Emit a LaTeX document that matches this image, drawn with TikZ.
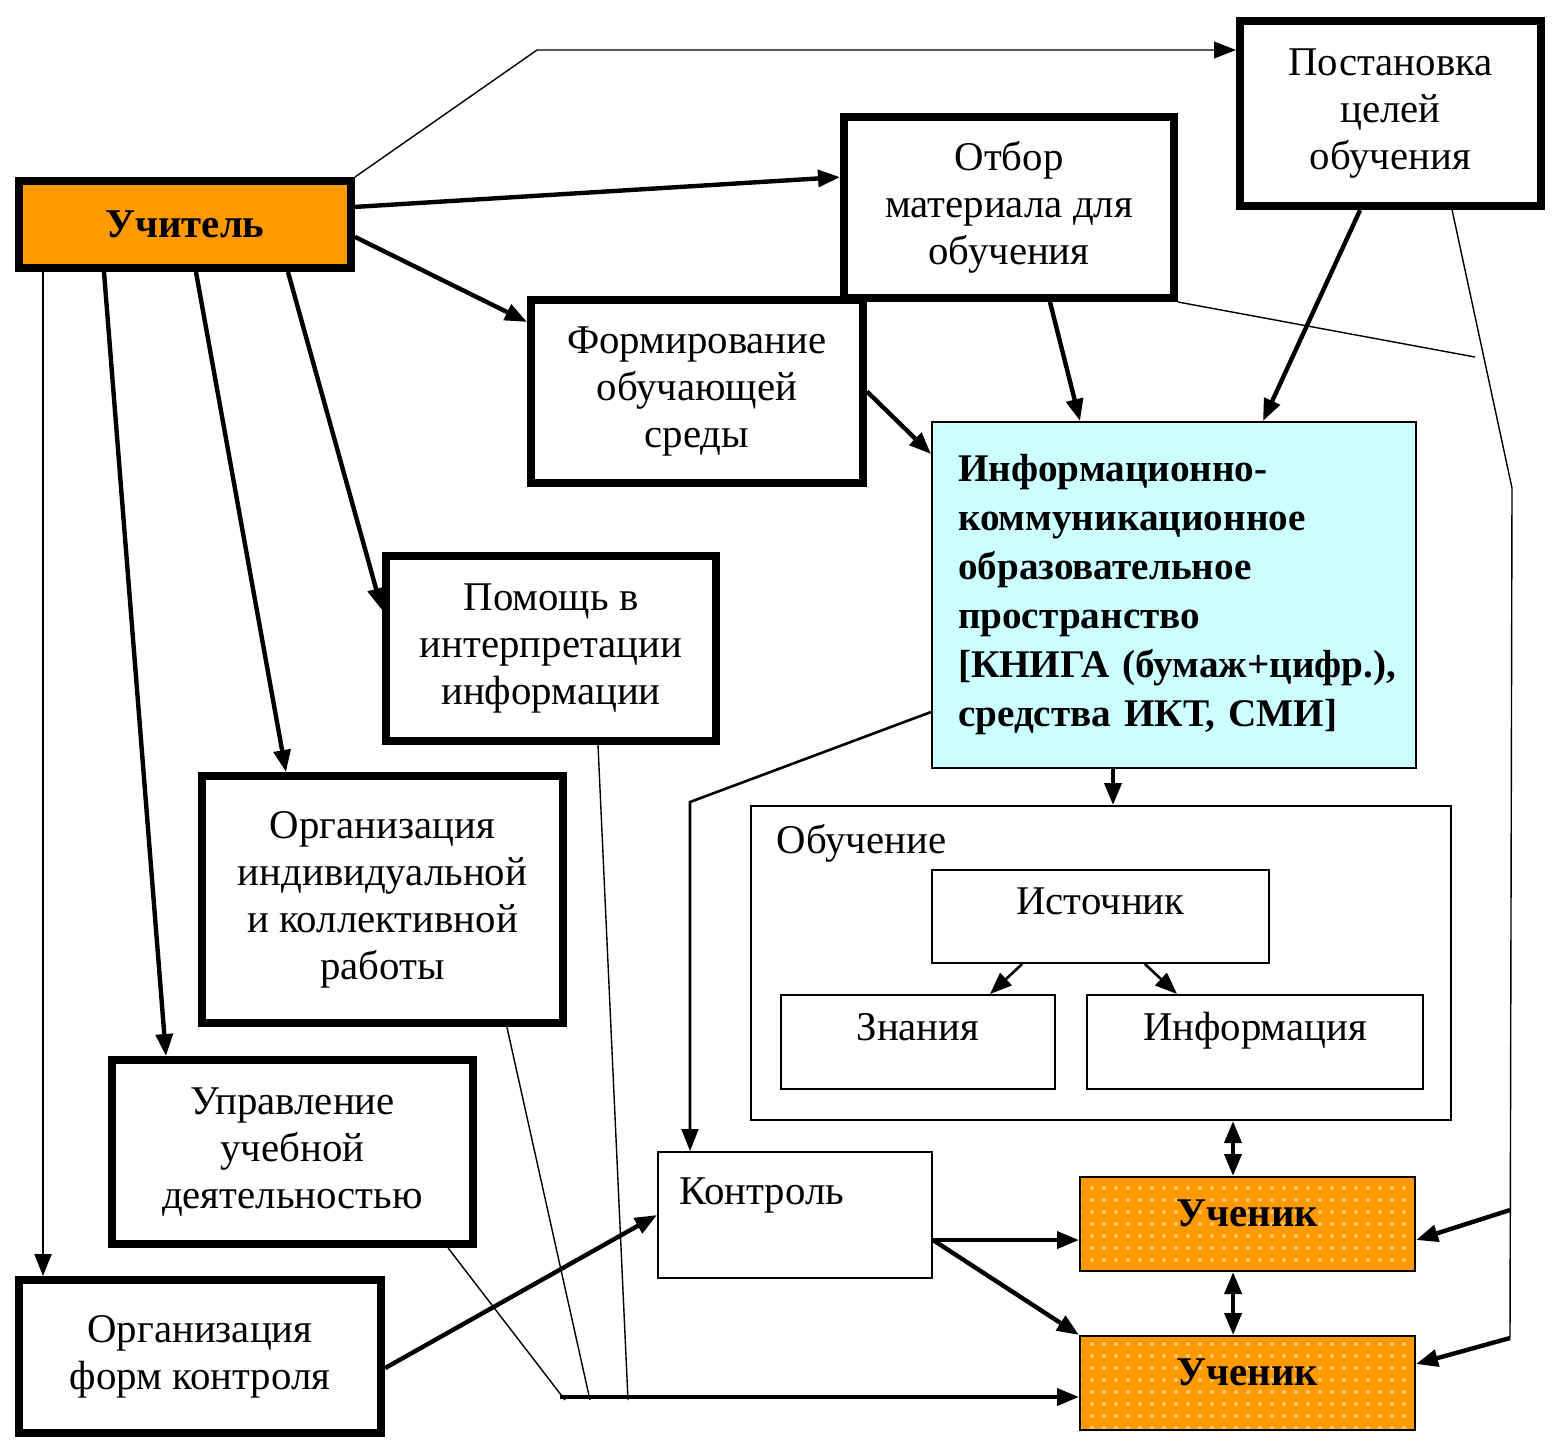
\documentclass[tikz,border=0pt]{standalone}
\usepackage{fontspec}
\setmainfont{Liberation Serif}
\usetikzlibrary{arrows.meta, positioning, patterns}
\definecolor{uorange}{RGB}{255,153,0}
\definecolor{ucyan}{RGB}{204,255,255}
\newcommand{\boxfont}{\fontsize{10.2}{11.75}\selectfont}
\begin{document}
\begin{tikzpicture}[x=0.25pt, y=-0.25pt, >={Triangle[length=5.5pt,width=4.2pt]}, font=\boxfont]
\tikzset{thickbox/.style={rectangle, draw, line width=2pt, align=center, inner sep=0pt},
		thinbox/.style={rectangle, draw, line width=0.5pt, align=center, inner sep=0pt},
		teacher/.style={thickbox, fill=uorange, font=\boxfont\bfseries},
		pupil/.style={thinbox, preaction={fill=uorange}, pattern=dots, pattern color=uorange!55!white, font=\boxfont\bfseries, text height=7pt, text depth=6pt, minimum width=83.75pt, minimum height=23.5pt},
		space/.style={thinbox, fill=ucyan, align=left, text width=108pt, font=\fontsize{9.8}{12.25}\selectfont\bfseries},
		upper/.style={text height=7pt, text depth=8pt},
		thinline/.style={line width=0.35pt},
		midline/.style={line width=0.65pt},
		thickline/.style={line width=1.1pt}}
\useasboundingbox (0,0) rectangle (1554,1440);
\node[teacher, minimum width=83pt, minimum height=21.75pt] (uch) at (185,224.5) {Учитель};
\node[thickbox, minimum width=75.25pt, minimum height=46.25pt] (post) at (1390.5,113.5) {Постановка\\целей\\обучения};
\node[thickbox, minimum width=82.5pt, minimum height=45.25pt] (otb) at (1009,207.5) {Отбор\\материала для\\обучения};
\node[thickbox, minimum width=83pt, minimum height=45.75pt] (form) at (697,391.5) {Формирование\\обучающей\\среды};
\node[thickbox, minimum width=82.5pt, minimum height=46.25pt] (pom) at (551,648.5) {Помощь в\\интерпретации\\информации};
\node[thickbox, minimum width=90.25pt, minimum height=61.75pt] (orgi) at (382.5,899.5) {Организация\\индивидуальной\\и коллективной\\работы};
\node[thickbox, minimum width=90.25pt, minimum height=46pt] (upr) at (292.5,1152) {Управление\\учебной\\деятельностью};
\node[thickbox, minimum width=90.5pt, minimum height=38.25pt] (orgk) at (200,1356.5) {Организация\\форм контроля};
\node[space, minimum width=121pt, minimum height=86.5pt] (ikt) at (1174,595) {Информационно-\\коммуникационное\\образовательное\\пространство\\\mbox{[КНИГА (бумаж+цифр.),}\\средства ИКТ, СМИ]};
\node[thinbox, minimum width=175pt, minimum height=78.5pt] (obu) at (1101,963) {};
\node[anchor=west, inner sep=0pt] (obulbl) at (776,843) {Обучение};
\node[thinbox, upper, minimum width=84.25pt, minimum height=23.25pt] (ist) at (1100.5,916.5) {Источник};
\node[thinbox, upper, minimum width=68.5pt, minimum height=23.5pt] (zn) at (918,1042) {Знания};
\node[thinbox, upper, minimum width=84pt, minimum height=23.5pt, right=7.5pt of zn] (inf) {Информация};
\node[thinbox, align=left, text width=58pt, text height=7pt, text depth=12.5pt, minimum width=68.5pt, minimum height=31.5pt] (kon) at (795,1215) {Контроль};
\node[pupil] (stu1) at (1247.5,1224) {Ученик};
\node[pupil, below=15.75pt of stu1] (stu2) {Ученик};
\coordinate (tbend) at (537,50);
\draw[thinline, ->] (uch.north east) -- (tbend) -- (post.west |- tbend);
\draw[thickline, ->] ([yshift=4.4pt]uch.east) -- ([yshift=7.6pt]otb.west);
\draw[thickline, ->] ([yshift=-3.1pt]uch.east) -- ([yshift=17.4pt]form.west);
\draw[thickline, ->] (form.east) -- ([yshift=-8.25pt]ikt.north west);
\draw[thickline, ->] ([xshift=10.25pt]otb.south) -- ([xshift=-23.5pt]ikt.north);
\draw[thickline, ->] ([xshift=-7.6pt]post.south) -- ([xshift=22.25pt]ikt.north);
\coordinate (otbend) at (1475,357);
\draw[thinline] (otb.south east) -- (otbend);
\coordinate (rbend) at (1512,488);
\coordinate (rmid) at (1510,1210);
\coordinate (rbot) at (1510,1338);
\draw[thinline] ([xshift=15.4pt]post.south) -- (rbend) -- (rbot);
\draw[thickline, ->] (rmid) -- ([yshift=-4pt]stu1.east);
\draw[thickline, ->] (rbot) -- ([yshift=4.75pt]stu2.east);
\draw[midline, ->] ([xshift=7pt]uch.south west) -- ([xshift=7pt]orgk.north west);
\draw[thickline, ->] ([xshift=22.25pt]uch.south west) -- ([xshift=14.5pt]upr.north west);
\draw[thickline, ->] ([xshift=45.25pt]uch.south west) -- ([xshift=22pt]orgi.north west);
\draw[thickline, ->] ([xshift=68.25pt]uch.south west) -- ([yshift=9.6pt]pom.west);
\coordinate (bleft) at (560,1397);
\coordinate (b1) at (628,1400);
\coordinate (b2) at (590,1400);
\coordinate (b3) at (565,1400);
\draw[thinline] ([xshift=11.75pt]pom.south) -- (b1);
\draw[thinline] ([xshift=31.1pt]orgi.south) -- (b2);
\draw[thinline] ([xshift=38.9pt]upr.south) -- (b3);
\draw[thickline, ->] (bleft) -- (bleft -| stu2.west);
\draw[thickline, ->] ([yshift=-2.9pt]orgk.east) -- (kon.west);
\coordinate (ksplit) at ([yshift=-6.25pt]kon.east);
\draw[thickline, ->] (ksplit) -- (ksplit -| stu1.west);
\draw[thickline, ->] (ksplit) -- (stu2.north west);
\coordinate (iktout) at ([xshift=-15.25pt]ikt.south);
\draw[thickline, ->] (iktout) -- (iktout |- obu.north);
\coordinate (lbend) at (690,802);
\draw[midline, ->] ([yshift=-29.25pt]ikt.west) -- (lbend) -- (lbend |- kon.north);
\draw[midline, ->] ([xshift=-19.6pt]ist.south) -- ([xshift=18pt]zn.north);
\draw[midline, ->] ([xshift=11.1pt]ist.south) -- ([xshift=-19.5pt]inf.north);
\coordinate (obuout) at ([xshift=33pt]obu.south);
\draw[thickline, <->] (obuout) -- (obuout |- stu1.north);
\draw[thickline, <->] ([xshift=-3.6pt]stu1.south) -- ([xshift=-3.6pt]stu2.north);
\end{tikzpicture}
\end{document}
